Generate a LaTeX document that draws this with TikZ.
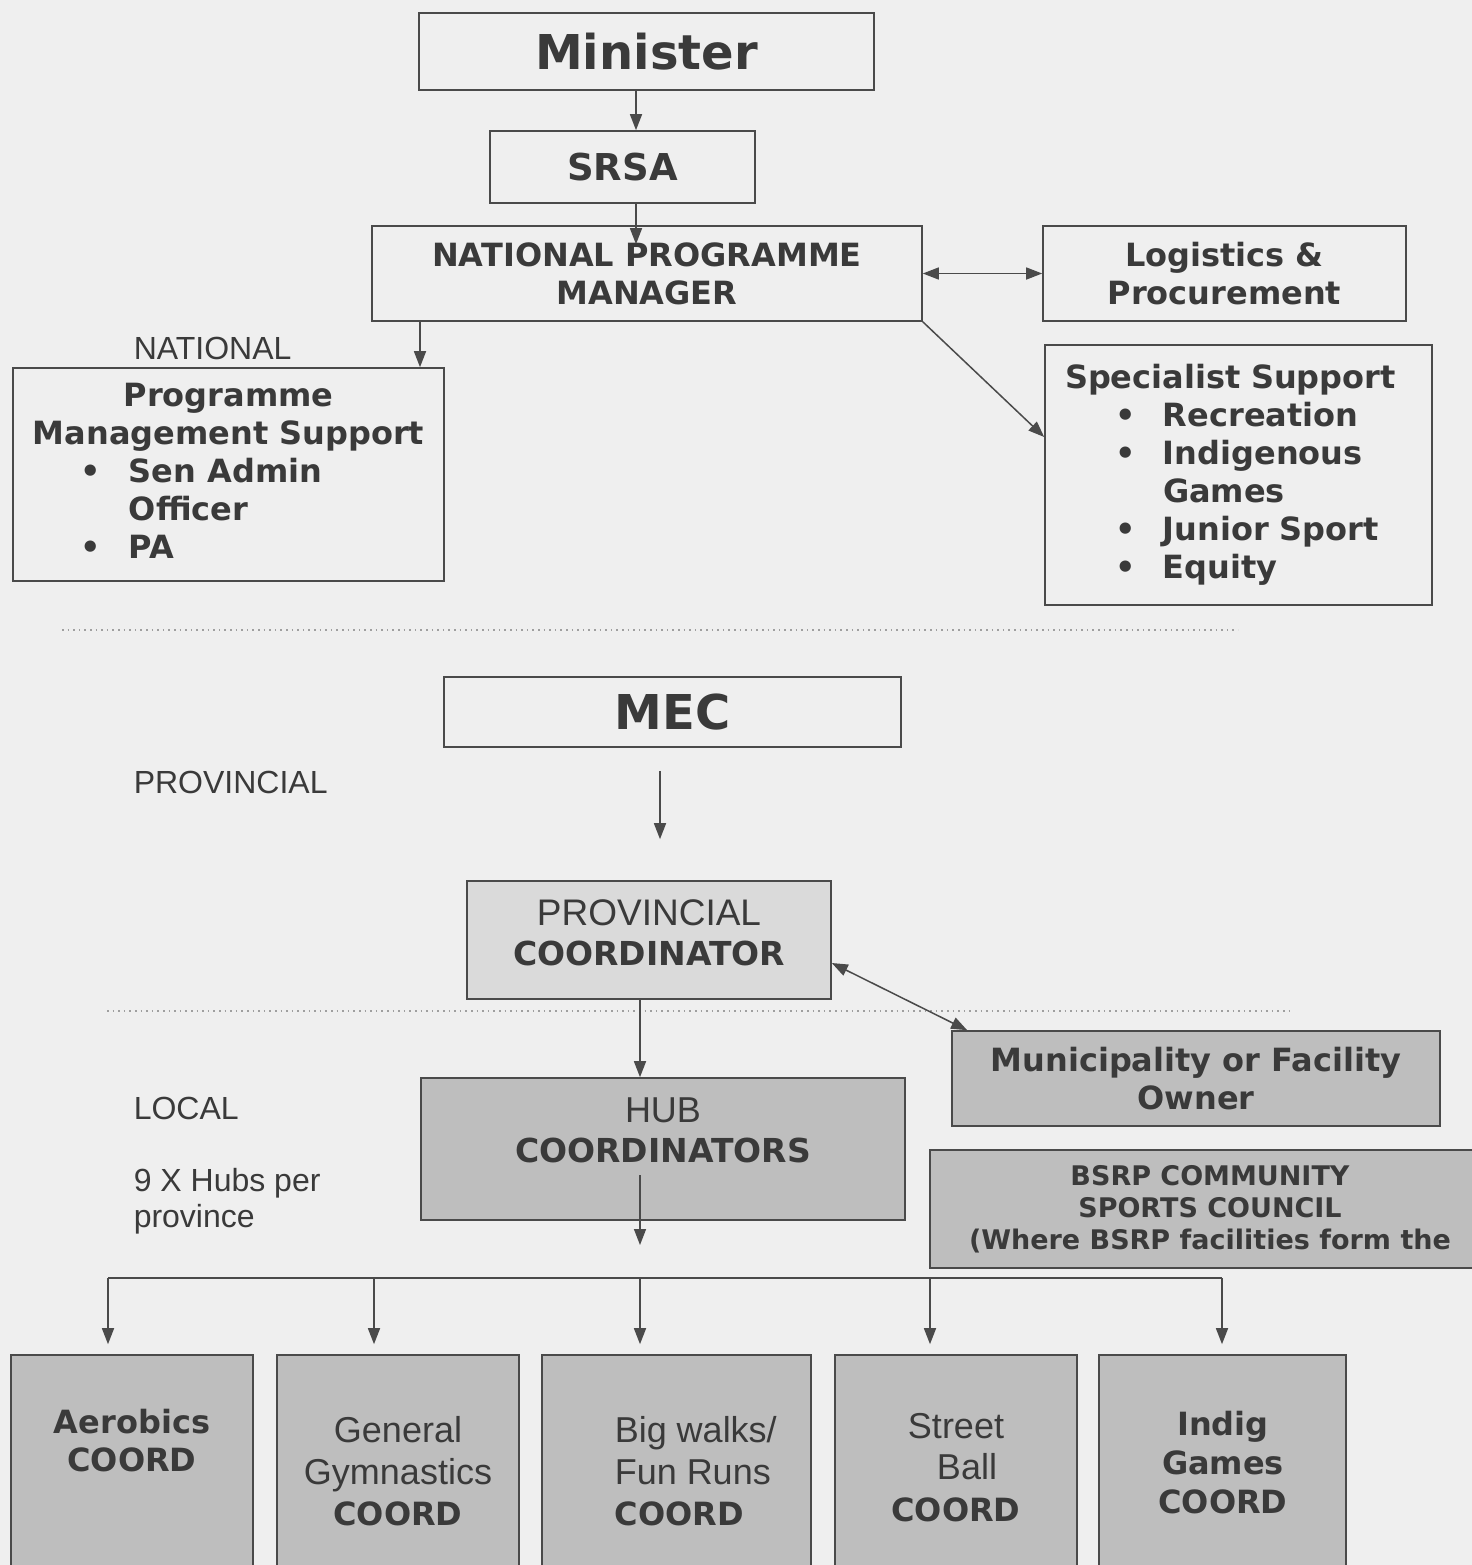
\documentclass[tikz,border=0pt]{standalone}
\usepackage{fontspec}
\setmainfont{DejaVu Sans}
\newfontfamily\arialfont{Liberation Sans}
\usetikzlibrary{arrows.meta}
\usepackage{xcolor}
\definecolor{paper}{HTML}{EFEFEF}
\definecolor{ink}{HTML}{3A3A3A}
\definecolor{edge}{HTML}{4A4A4A}
\definecolor{lightfill}{HTML}{DADADA}
\definecolor{darkfill}{HTML}{BEBEBE}
\newcommand{\bulletrow}[1]{\hspace*{#1}\makebox[24pt][l]{•}}
\newcommand{\regtext}[1]{{\arialfont\mdseries\fontsize{18}{20.75}\selectfont #1}}

\tikzset{
 box/.style={draw=edge, line width=0.8pt, text=ink, inner sep=0pt, align=center},
 bold/.style={font=\bfseries\fontsize{16}{19}\selectfont},
 big/.style={font=\bfseries\fontsize{24}{28}\selectfont},
 plain/.style={font=\arialfont\fontsize{16}{19}\selectfont, text=ink, inner sep=0pt},
 twoline/.style={align=center, text=ink, inner sep=0pt, font=\bfseries\fontsize{16.5}{20}\selectfont},
 sep/.style={gray!75, dotted, line width=0.8pt},
}

\begin{document}
\begin{tikzpicture}[x=0.5pt, y=-0.5pt, color=edge, line width=0.75pt, >={Triangle[length=8pt,width=6pt]}]
\useasboundingbox (0,0) rectangle (1472,1565);
\fill[paper] (0,0) rectangle (1472,1565);

% national
\node[box, big, minimum width=227.5pt, minimum height=38.5pt] (minister) at (646.5,51.5) {Minister};
\node[box, font=\bfseries\fontsize{18.5}{22}\selectfont, minimum width=132.5pt, minimum height=36pt] (srsa) at (622.5,167) {SRSA};
\node[box, bold, minimum width=275pt, minimum height=47.5pt] (npm) at (647,273.5) {NATIONAL PROGRAMME\\MANAGER};
\node[box, bold, minimum width=181.5pt, minimum height=47.5pt] (logi) at (1224.5,273.5) {Logistics \&\\Procurement};
\node[plain, anchor=west] (natlabel) at (133,348) {NATIONAL};
\node[box, bold, minimum width=215.5pt, minimum height=106.5pt] (pms) at (228.5,474.5) {\begin{tabular}{@{}l@{}}\multicolumn{1}{c}{Programme}\\Management Support\\\bulletrow{24pt}Sen Admin\\\hspace*{48pt}Officer\\\bulletrow{24pt}PA\end{tabular}};
\node[box, bold, text width=173.5pt, align=left, inner xsep=10pt, minimum height=130pt] (spec) at (1238.5,475) {Specialist Support\\\bulletrow{25pt}Recreation\\\bulletrow{25pt}Indigenous\\\hspace*{49pt}Games\\\bulletrow{25pt}Junior Sport\\\bulletrow{25pt}Equity};

\coordinate (natx) at (636,0);
\coordinate (pmsx) at (420,0);
\draw[->] (minister.south -| natx) -- (srsa.north -| natx);
\draw[->, shorten >=-9.5pt] (srsa.south -| natx) -- (npm.north -| natx);
\draw[<->] (npm.east) -- (logi.west);
\draw[->] (npm.south east) -- ([yshift=19pt]spec.west);
\draw[->] (npm.south -| pmsx) -- (pms.north -| pmsx);

\draw[sep] (62,630) -- (1238,630);

% provincial
\node[box, big, minimum width=228.5pt, minimum height=35pt] (mec) at (672.5,712) {MEC};
\node[plain, anchor=west] (provlabel) at (133,782) {PROVINCIAL};
\node[box, fill=lightfill, minimum width=182pt, minimum height=59pt] (pc) at (649,940) {};
\node[twoline] (pctext) at (649,933) {{\arialfont\mdseries\fontsize{18.5}{20}\selectfont PROVINCIAL}\\COORDINATOR};

\coordinate (provx) at (660,0);
\draw[->, shorten <=11.5pt, shorten >=20.5pt] (mec.south -| provx) -- (pc.north -| provx);

\draw[sep] (107,1011) -- (1290,1011);

% local
\node[plain, anchor=west] (loclabel) at (133,1108) {LOCAL};
\node[plain, anchor=west, align=left, font=\arialfont\fontsize{16}{18}\selectfont] (hubcount) at (133,1201) {9 X Hubs per\\province};
\node[box, fill=darkfill, minimum width=242pt, minimum height=71pt] (hub) at (663,1149) {};
\node[twoline] (hubtext) at (663,1130) {{\arialfont\mdseries\fontsize{18}{20}\selectfont HUB}\\COORDINATORS};
\node[box, bold, fill=darkfill, minimum width=244pt, minimum height=47.5pt] (muni) at (1196,1078.5) {Municipality or Facility\\Owner};
\node[box, fill=darkfill, font=\bfseries\fontsize{13.5}{16}\selectfont, minimum width=280pt, minimum height=59pt] (bsrp) at (1210,1209) {BSRP COMMUNITY\\SPORTS COUNCIL\\(Where BSRP facilities form the};

\coordinate (hubx) at (640,0);
\draw[<->] ([yshift=-11.5pt]pc.east) -- ([xshift=8pt]muni.north west);
\draw[->] (pc.south -| hubx) -- (hub.north -| hubx);

\foreach \n/\x/\w in {aer/132/121pt, gen/398/121pt, big/676.5/134.5pt, street/956/121pt, indig/1222.5/123.5pt}
 \node[box, fill=darkfill, minimum width=\w, minimum height=132.5pt] (\n) at (\x,1487.5) {};
\node[twoline, font=\bfseries\fontsize{16}{19}\selectfont] (aertext) at (132,1441) {Aerobics\\COORD};
\node[twoline, font=\bfseries\fontsize{16}{20.75}\selectfont] (gentext) at (398,1471.5) {\regtext{General}\\\regtext{Gymnastics}\\COORD};
\node[twoline, align=left, anchor=west, font=\bfseries\fontsize{16}{20.75}\selectfont] (bigtext) at (614,1471.5) {\regtext{Big walks/}\\\regtext{Fun Runs}\\COORD};
\node[twoline, font=\bfseries\fontsize{16}{20.75}\selectfont] (streettext) at (956,1467.5) {\regtext{Street}\\\hspace*{11pt}\regtext{Ball}\\COORD};
\node[twoline, font=\bfseries\fontsize{16}{19.5}\selectfont] (indigtext) at (1223,1463) {Indig\\Games\\COORD};

\coordinate (hubout) at (640,1175);
\foreach \x [count=\i] in {108,374,640,930,1222}
 \coordinate (bus\i) at (\x,1278);
\draw[->, shorten >=16.5pt] (hubout) -- (bus3);
\draw (bus1) -- (bus5);
\foreach \i/\n in {1/aer,2/gen,3/big,4/street,5/indig}
 \draw[->, shorten >=5pt] (bus\i) -- (bus\i |- \n.north);
\end{tikzpicture}
\end{document}
